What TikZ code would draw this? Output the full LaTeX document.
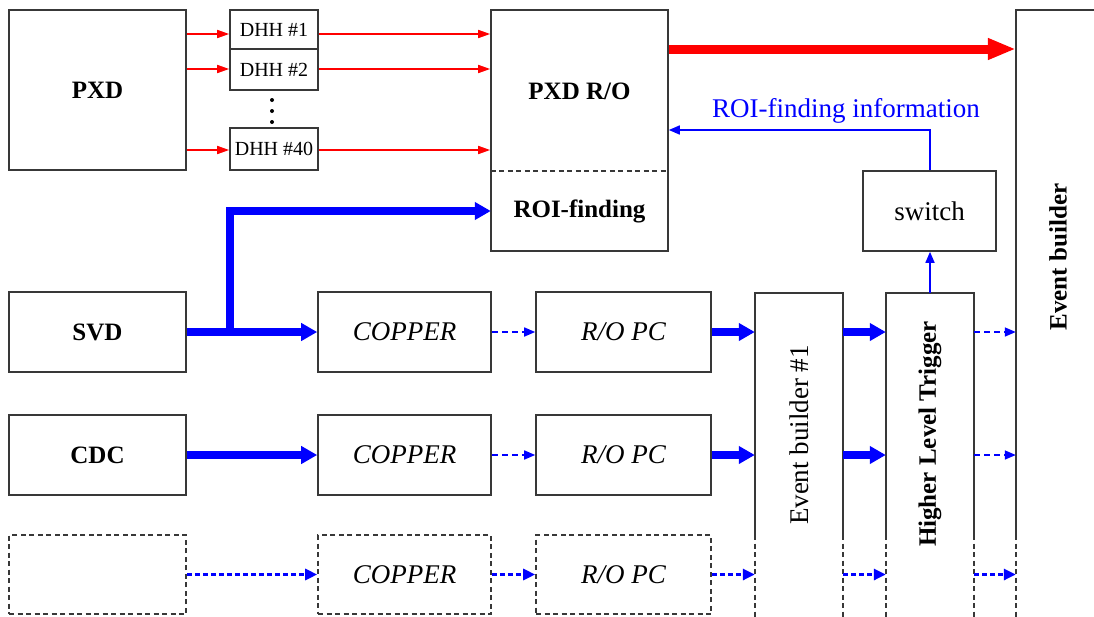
\documentclass[tikz,border=0pt]{standalone}
\usepackage{fontspec}
\setmainfont{Liberation Serif}
\usetikzlibrary{arrows.meta}
\definecolor{edgec}{gray}{0.22}
\definecolor{pred}{RGB}{255,0,0}
\definecolor{pblue}{RGB}{0,0,255}
\begin{document}
\begin{tikzpicture}[x=1pt,y=-1pt,
  box/.style={draw=edgec, line width=1.6pt, inner sep=0pt, align=center},
  dbox/.style={box, dash pattern=on 5pt off 3.5pt},
  nobox/.style={inner sep=0pt, align=center},
  bl/.style={font=\fontsize{25}{30}\selectfont\bfseries},
  itl/.style={font=\fontsize{27}{32}\selectfont\itshape},
  rg/.style={font=\fontsize{27}{32}\selectfont},
  sm/.style={font=\fontsize{20}{24}\selectfont},
  edgeline/.style={draw=edgec, line width=1.6pt},
  edgedash/.style={draw=edgec, line width=1.6pt, dash pattern=on 5pt off 3.5pt},
  redthin/.style={draw=pred, line width=1.6pt, -{Triangle[length=12pt,width=8pt]}},
  redthick/.style={draw=pred, line width=9pt, -{Triangle[length=28pt,width=20pt]}},
  bluethick/.style={draw=pblue, line width=7.5pt, -{Triangle[length=16pt,width=17pt]}},
  bluethin/.style={draw=pblue, line width=1.6pt, -{Triangle[length=11pt,width=9pt]}},
  bluedash/.style={bluethin, dash pattern=on 6pt off 4pt},
  bluedashb/.style={draw=pblue, line width=3pt, dash pattern=on 5pt off 3pt, -{Triangle[length=12pt,width=11pt]}},
]
\useasboundingbox (0,0) rectangle (1094,616);
\clip (0,0) rectangle (1094,616);
\fill[white] (0,0) rectangle (1094,616);

% PXD and DHH
\node[box, bl, minimum width=177pt, minimum height=160pt] (pxd) at (97.5,90) {PXD};
\node[box, sm, minimum width=88pt, minimum height=39pt] (dhh1) at (274,29.5) {DHH \#1};
\node[box, sm, minimum width=88pt, minimum height=41pt] (dhh2) at (274,69.5) {DHH \#2};
\node[box, sm, minimum width=88pt, minimum height=42pt] (dhh40) at (274,149) {DHH \#40};
\foreach \yy in {100,111,122} \fill[black] (272,\yy) circle (2pt);

% PXD R/O
\node[box, minimum width=177pt, minimum height=241pt] (pxdro) at (579.5,130.5) {};
\node[nobox, bl] (pxdrot) at (579.5,91) {PXD R/O};
\node[nobox, bl, minimum width=177pt, minimum height=80pt] (roi) at (579.5,211) {ROI-finding};
\draw[edgedash] (roi.north west) -- (roi.north east);

% Event builder (big)
\node[nobox, minimum width=114pt, minimum height=640pt] (evb) at (1073,330) {};
\node[nobox, bl, rotate=90] (evbt) at (1058,257) {Event builder};
\draw[edgeline] (evb.west |- 0,535) -- (evb.north west) -- (evb.north east);
\draw[edgedash] (evb.west |- 0,535) -- (evb.south west);

% switch
\node[box, rg, minimum width=133pt, minimum height=80pt] (switch) at (929.5,211) {switch};
\node[nobox, rg, text=pblue] (roiinfo) at (846,111) {ROI-finding information};

% detector rows
\node[box, bl, minimum width=177pt, minimum height=80pt] (svd) at (97.5,332) {SVD};
\node[box, bl, minimum width=177pt, minimum height=80pt] (cdc) at (97.5,455) {CDC};
\node[dbox, minimum width=177pt, minimum height=79pt] (blank) at (97.5,574.5) {};

\node[box, itl, minimum width=173pt, minimum height=80pt] (cop1) at (404.5,332) {COPPER};
\node[box, itl, minimum width=173pt, minimum height=80pt] (cop2) at (404.5,455) {COPPER};
\node[dbox, itl, minimum width=173pt, minimum height=79pt] (cop3) at (404.5,574.5) {COPPER};

\node[box, itl, minimum width=175pt, minimum height=80pt] (ro1) at (623.5,332) {R/O PC};
\node[box, itl, minimum width=175pt, minimum height=80pt] (ro2) at (623.5,455) {R/O PC};
\node[dbox, itl, minimum width=175pt, minimum height=79pt] (ro3) at (623.5,574.5) {R/O PC};

% Event builder #1 and HLT columns
\node[nobox, minimum width=88pt, minimum height=357pt] (eb1) at (799,471.5) {};
\node[nobox, rg, rotate=90] (eb1t) at (799,435) {Event builder \#1};
\draw[edgeline] (eb1.west |- 0,535) -- (eb1.north west) -- (eb1.north east) -- (eb1.east |- 0,535);
\draw[edgedash] (eb1.west |- 0,535) -- (eb1.south west);
\draw[edgedash] (eb1.east |- 0,535) -- (eb1.south east);

\node[nobox, minimum width=88pt, minimum height=357pt] (hlt) at (930,471.5) {};
\node[nobox, bl, rotate=90] (hltt) at (930,434) {Higher Level Trigger};
\draw[edgeline] (hlt.west |- 0,535) -- (hlt.north west) -- (hlt.north east) -- (hlt.east |- 0,535);
\draw[edgedash] (hlt.west |- 0,535) -- (hlt.south west);
\draw[edgedash] (hlt.east |- 0,535) -- (hlt.south east);

% red arrows
\draw[redthin] (pxd.east |- 0,34) -- (dhh1.west |- 0,34);
\draw[redthin] (pxd.east |- 0,69) -- (dhh2.west |- 0,69);
\draw[redthin] (pxd.east |- 0,150) -- (dhh40.west |- 0,150);
\draw[redthin] (dhh1.east |- 0,34) -- (pxdro.west |- 0,34);
\draw[redthin] (dhh2.east |- 0,69) -- (pxdro.west |- 0,69);
\draw[redthin] (dhh40.east |- 0,150) -- (pxdro.west |- 0,150);
\draw[redthick] (pxdro.east |- 0,49) -- (evb.west |- 0,49);

% ROI info
\draw[bluethin] (switch.north -| hlt.north) |- (pxdro.east |- 0,130);
\draw[bluethin] (hlt.north) -- (hlt.north |- switch.south);

% SVD branch
\coordinate (br) at (230,332);
\draw[bluethick] (br) |- (roi.west);
\draw[bluethick] (svd.east) -- (cop1.west);
\draw[bluethick] (cdc.east) -- (cop2.west);
\draw[bluedashb] (blank.east) -- (cop3.west);

\draw[bluedash] (cop1.east) -- (ro1.west);
\draw[bluedash] (cop2.east) -- (ro2.west);
\draw[bluedashb] (cop3.east) -- (ro3.west);

\draw[bluethick] (ro1.east) -- (ro1.east -| eb1.west);
\draw[bluethick] (ro2.east) -- (ro2.east -| eb1.west);
\draw[bluedashb] (ro3.east) -- (ro3.east -| eb1.west);

\draw[bluethick] (eb1.east |- ro1.east) -- (hlt.west |- ro1.east);
\draw[bluethick] (eb1.east |- ro2.east) -- (hlt.west |- ro2.east);
\draw[bluedashb] (eb1.east |- ro3.east) -- (hlt.west |- ro3.east);

\draw[bluedash] (hlt.east |- ro1.east) -- (evb.west |- ro1.east);
\draw[bluedash] (hlt.east |- ro2.east) -- (evb.west |- ro2.east);
\draw[bluedashb] (hlt.east |- ro3.east) -- (evb.west |- ro3.east);
\end{tikzpicture}
\end{document}
